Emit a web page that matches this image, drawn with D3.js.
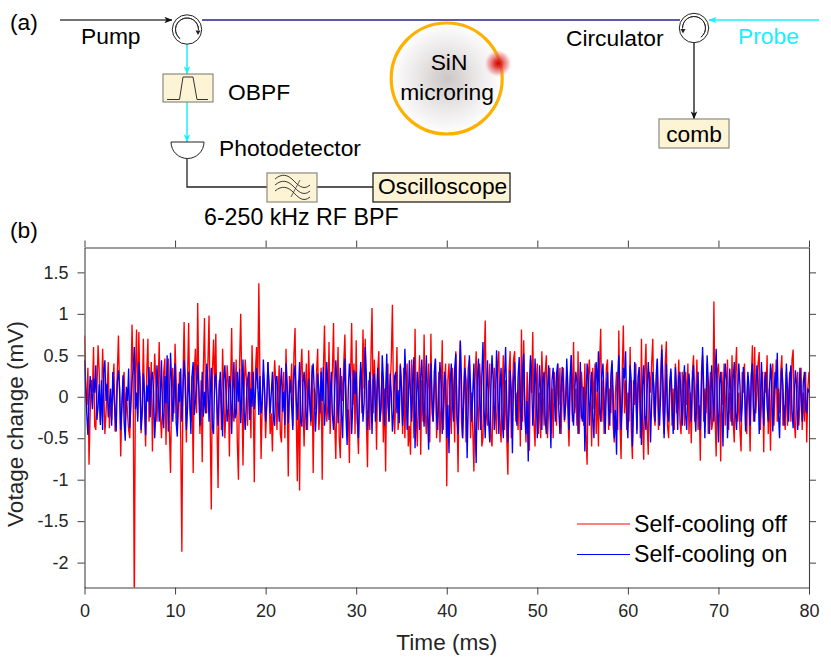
<!DOCTYPE html>
<html><head><meta charset="utf-8">
<script src="https://cdn.jsdelivr.net/npm/d3@7"></script>
<style>
html,body{margin:0;padding:0;background:#fff}
svg{display:block}
text{font-family:"Liberation Sans",Arial,sans-serif;fill:#000}
</style></head><body>
<script>
const sampleStepMs = 0.125;
const xTicks = [0,10,20,30,40,50,60,70,80];
const yTicks = [-2,-1.5,-1,-0.5,0,0.5,1,1.5];
const xDomain = [0,80];
const yDomain = [-2.3,1.8];
const seriesNames = ["Self-cooling off","Self-cooling on"];
const seriesColors = ["#ff0000","#0000ff"];
const selfCoolingOff = [
0.74,0.1,-0.1,0.35,-0.82,-0.2,0.2,0.05,0.6,-0.35,-0.4,0.1,0.62,0.3,-0.3,-0.1,0.58,0.15,-0.45,-0.2,
0.1,0.42,-0.38,-0.05,-0.28,0.12,0.4,-0.42,-0.1,0.3,0.74,0.05,-0.72,-0.1,0.16,0.3,-0.34,0.05,-0.2,-0.4,
-0.5,0.1,0.87,0.2,-2.6,0.3,0.81,-0.25,0.78,0.1,-0.44,-0.1,0.7,-0.15,-0.6,0.3,0.7,-0.3,0.1,0.42,
-0.66,0.05,0.52,0.2,-0.3,0.1,0.66,-0.2,-0.5,-0.15,0.3,0.46,-0.58,0.2,0.46,-0.4,-0.92,0.1,0.35,-0.2,
0.64,0.2,-0.4,-0.1,0.3,-0.5,-1.87,0.2,0.9,0.1,-0.55,0.2,0.89,-0.1,-0.3,0.25,-0.92,0.3,0.58,-0.2,
1.13,0.1,-0.45,0.2,-0.79,0.35,0.95,-0.1,-0.2,0.4,0.98,-0.3,-1.36,0.3,0.69,0.1,0.76,-0.3,-1.1,0.2,
0.1,-0.4,0.58,0.05,-0.5,-0.12,0.38,0.15,-0.72,0.1,0.83,-0.2,-0.3,0.05,0.45,-0.55,-1.0,0.4,1.0,0.1,
-0.83,0.1,0.45,0.2,-0.35,0.1,0.3,-0.5,0.62,0.05,-1.03,0.3,0.6,0.1,1.37,0.2,-0.75,-0.1,0.3,0.1,
-0.5,-0.1,0.42,0.1,-0.45,-0.2,-0.66,0.1,0.44,0.15,-0.4,0.05,0.38,-0.45,-0.55,0.1,0.3,-0.5,0.58,0.05,
-0.96,0.25,0.05,0.4,-0.35,0.5,0.83,-0.2,-1.02,0.2,-1.13,0.3,0.58,-0.1,-0.6,0.05,0.4,-0.4,0.56,0.1,
-0.35,0.38,-0.92,0.1,-0.15,0.3,0.58,-0.4,-0.2,0.35,-1.0,0.3,0.86,0.1,-0.3,-0.1,0.66,-0.45,0.05,0.3,
0.89,-0.3,-0.75,0.1,0.6,-0.5,-0.74,0.25,-0.05,0.4,0.75,0.1,-0.45,-0.15,-0.8,0.25,0.89,-0.1,0.4,-0.45,
0.68,-0.3,-0.69,0.1,0.35,-0.2,0.81,0.1,0.7,-0.3,-0.85,0.2,-0.4,0.45,1.07,-0.2,0.45,0.1,-0.64,0.3,
0.55,-0.3,-0.05,0.3,-0.55,0.1,-0.9,0.25,0.4,-0.3,0.1,0.45,1.11,-0.1,-0.45,0.05,0.6,-0.4,-0.2,0.4,
0.1,-0.45,0.35,-0.5,0.05,0.4,-0.6,-0.35,-0.7,0.45,0.1,-0.5,0.82,-0.2,-0.6,0.05,0.5,-0.7,0.2,-0.3,
0.75,-0.2,-0.45,0.1,0.4,-0.55,0.76,-0.2,-0.3,0.05,0.45,-0.5,-0.2,0.3,-0.55,-0.1,0.68,-0.4,0.1,0.4,
-1.08,0.2,0.4,-0.1,-0.45,0.35,0.05,-0.55,0.55,-0.1,-0.91,0.3,0.68,-0.3,-0.5,0.1,0.5,-0.55,0.05,0.35,
0.45,-0.5,0.05,-0.4,-0.9,0.2,0.55,-0.1,-0.4,0.4,0.15,-0.6,-0.5,0.4,0.92,-0.2,-0.35,0.1,0.4,-0.5,
-0.6,0.05,0.35,-0.2,-0.45,0.4,0.55,-0.3,-0.55,0.1,0.5,-0.4,0.2,-0.5,-0.94,0.3,0.55,-0.5,0.1,0.45,
0.55,-0.3,0.05,-0.4,0.35,-0.6,0.81,-0.3,0.68,-0.2,-0.55,0.3,-0.1,-0.65,0.45,0.05,0.78,-0.3,-0.6,0.15,
0.4,-0.45,0.05,-0.5,0.55,0.1,-0.35,0.3,0.5,-0.5,-0.15,0.35,-0.45,0.1,-0.5,0.3,0.05,-0.35,0.4,-0.1,
0.35,-0.45,0.05,0.35,-0.3,-0.1,0.3,-0.2,-0.6,0.1,0.5,-0.3,0.66,-0.2,0.1,-0.35,0.55,-0.45,-0.1,0.3,
0.05,-0.35,0.4,-0.45,-0.82,0.25,0.45,0.05,-0.6,0.35,-0.15,0.4,-0.45,0.1,-0.6,0.4,0.82,-0.3,0.2,-0.45,
-0.1,0.35,0.45,-0.4,0.1,-0.2,0.4,-0.35,-0.55,0.05,0.3,-0.4,0.8,-0.3,-0.75,0.3,0.86,-0.2,0.2,-0.4,
0.05,-0.3,0.6,-0.4,-0.75,0.2,-0.1,0.4,-0.4,0.1,0.3,-0.5,0.7,-0.3,-0.76,0.3,0.64,-0.3,-0.7,0.3,
0.05,0.4,0.7,-0.2,-0.35,0.1,0.45,-0.4,-0.1,0.3,0.63,-0.2,-0.45,0.4,0.67,-0.35,-0.5,0.05,0.3,-0.35,
0.1,-0.4,0.4,-0.2,0.05,0.45,-0.3,-0.45,0.3,0.05,-0.35,0.3,-0.1,0.4,-0.45,0.05,-0.56,0.3,0.5,-0.3,
0.05,0.45,-0.4,-0.1,-0.77,0.3,0.5,-0.3,0.1,-0.2,0.4,-0.45,0.05,0.3,-0.4,-0.3,1.15,-0.2,-0.72,0.3,
0.4,0.05,-0.78,0.3,-0.1,0.4,-0.35,0.1,0.45,-0.4,0.05,-0.3,0.5,-0.3,-0.55,0.3,0.6,-0.3,0.05,-0.4,
-0.66,0.3,0.05,0.4,-0.35,-0.45,0.25,-0.1,-0.66,0.2,0.62,-0.3,0.6,-0.2,0.05,0.4,0.54,-0.4,-0.1,0.3,
-0.67,0.3,0.05,0.5,-0.45,0.1,-0.65,0.3,0.4,-0.35,0.05,0.45,-0.3,0.1,-0.2,0.3,0.5,-0.35,-0.1,-0.4,
0.3,-0.35,0.05,0.3,-0.3,0.45,0.57,-0.3,-0.5,0.1,0.3,-0.35,-0.1,0.35,-0.4,0.05,-0.3,0.3,-0.55,0.1,0.3];
const selfCoolingOn = [
0.44,0.12,-0.2,-0.46,-0.05,0.25,0.08,-0.15,0.22,0.05,0.38,-0.28,-0.12,0.15,-0.34,0.2,-0.4,0.3,0.44,-0.05,
0.16,-0.25,-0.08,0.1,-0.35,0.3,0.02,-0.2,-0.42,0.18,0.32,0.1,-0.4,-0.12,0.26,-0.3,-0.53,0.12,-0.05,0.34,
-0.38,-0.1,0.2,0.32,0.6,-0.15,0.05,-0.3,0.42,0.22,-0.4,-0.18,0.28,0.05,-0.46,0.14,-0.06,0.36,-0.25,0.2,
0.3,0.06,-0.5,-0.2,0.38,0.12,-0.3,0.02,0.44,-0.22,-0.38,0.25,-0.08,0.5,-0.42,-0.1,0.53,0.18,-0.3,0.04,
0.4,-0.32,-0.48,0.16,-0.06,0.34,-0.3,0.08,0.44,0.2,-0.4,-0.14,0.3,-0.04,-0.45,0.26,0.42,-0.22,-0.05,0.15,
0.38,0.1,-0.35,-0.12,0.3,-0.24,0.06,-0.2,0.4,0.18,-0.3,0.02,0.35,-0.38,-0.45,0.22,0.28,-0.08,-0.35,0.1,
0.3,-0.1,-0.48,0.2,0.38,0.05,-0.3,-0.14,0.25,0.12,-0.45,0.08,0.42,-0.26,-0.2,0.3,-0.06,0.34,-0.32,0.02,
0.45,-0.18,-0.4,-0.04,0.2,0.3,-0.28,0.1,-0.12,0.3,-0.15,0.04,0.35,0.18,-0.22,0.25,-0.2,-0.06,0.45,0.1,
-0.3,-0.08,0.42,0.16,-0.2,0.04,0.3,-0.26,-0.35,0.22,0.25,-0.05,-0.3,0.12,0.35,-0.18,0.06,-0.34,0.4,0.14,
-0.32,0.05,0.2,-0.12,-0.4,0.26,0.38,-0.02,-0.28,0.08,0.42,-0.3,-0.36,0.18,0.3,0.04,-0.4,-0.16,0.22,-0.1,
-0.3,0.28,0.4,0.06,-0.42,-0.12,0.28,0.1,-0.2,0.3,-0.05,0.36,-0.35,-0.08,0.42,0.14,-0.28,0.02,0.3,-0.22,
-0.4,0.05,0.44,0.18,-0.32,-0.06,0.35,-0.2,-0.5,0.16,0.46,-0.24,-0.58,0.08,0.4,0.2,-0.45,-0.1,0.32,0.03,
0.3,-0.28,-0.5,0.04,0.42,0.12,-0.3,-0.08,0.6,0.24,-0.4,-0.16,0.3,0.06,-0.45,0.2,0.28,-0.3,-0.02,0.35,
0.1,-0.3,-0.14,0.5,0.22,-0.35,0.06,0.52,-0.1,-0.3,0.28,0.04,-0.42,-0.18,0.25,0.3,-0.2,0.08,-0.32,0.38,
0.12,-0.35,-0.06,0.58,0.18,-0.4,-0.1,0.44,0.02,-0.3,0.2,0.48,-0.62,-0.14,0.3,0.06,-0.4,0.24,0.45,-0.08,
-0.36,0.1,0.5,-0.2,-0.64,0.16,0.4,-0.04,-0.3,0.3,0.46,-0.22,-0.4,0.08,0.42,0.14,-0.45,-0.12,0.3,0.2,
-0.5,-0.1,-0.68,0.16,0.4,-0.08,-0.3,0.34,0.52,-0.24,-0.45,0.05,0.67,0.18,-0.5,-0.06,0.35,0.2,-0.74,-0.1,
0.5,0.12,-0.3,0.05,0.4,-0.34,-0.8,0.2,0.46,-0.02,-0.4,0.26,0.66,-0.16,-0.5,0.08,0.44,-0.3,-0.55,0.1,
0.5,0.2,-0.4,-0.04,0.56,0.14,-0.45,0.1,0.35,-0.28,-0.5,0.22,0.6,-0.06,-0.55,-0.2,0.32,0.05,-0.68,0.18,
0.42,-0.12,-0.35,0.24,0.48,-0.02,-0.4,0.3,0.52,-0.18,-0.45,-0.05,-0.78,0.14,0.5,0.2,-0.35,-0.08,0.46,0.1,
-0.5,-0.14,0.38,0.06,-0.4,0.22,0.3,-0.28,-0.45,0.08,0.38,-0.1,-0.62,0.2,0.35,0.02,-0.3,0.28,0.4,-0.16,
-0.45,0.04,0.36,0.16,-0.28,-0.1,0.46,0.12,-0.4,0.26,0.5,-0.2,-0.35,0.05,0.3,0.18,-0.45,-0.06,0.42,-0.24,
-0.3,0.12,-0.66,-0.08,0.4,0.2,-0.35,0.02,0.3,-0.26,-0.5,0.16,0.42,0.06,0.55,-0.18,-0.3,0.28,0.4,-0.04,
-0.45,0.1,0.3,-0.14,-0.35,0.26,0.44,0.04,-0.5,-0.16,-0.7,0.2,0.5,0.1,-0.4,-0.08,0.35,0.22,0.55,-0.2,
-0.5,0.04,0.38,0.18,-0.6,-0.12,0.42,0.06,-0.45,0.24,0.36,-0.1,-0.58,0.14,0.38,-0.24,-0.4,0.08,0.42,0.16,
-0.55,-0.08,0.3,0.12,-0.3,0.26,0.46,-0.16,-0.35,0.04,0.57,0.22,-0.5,-0.06,0.4,-0.2,-0.3,0.18,0.34,0.02,
-0.45,-0.14,0.36,0.08,-0.4,0.24,0.3,-0.06,-0.35,0.16,0.38,-0.22,-0.4,0.12,0.28,0.02,-0.3,0.2,0.38,-0.12,
-0.42,0.06,0.3,-0.24,-0.4,0.14,0.6,0.1,-0.5,-0.06,0.5,0.2,-0.45,-0.16,0.38,0.04,-0.3,0.24,0.58,-0.12,
-0.55,0.16,0.3,-0.04,-0.6,0.08,0.4,0.2,-0.5,-0.14,0.34,0.04,-0.35,0.22,0.42,-0.18,-0.4,0.02,0.4,0.14,
-0.3,-0.1,0.36,0.18,-0.42,-0.04,0.3,0.12,-0.35,0.26,0.4,-0.14,-0.3,0.06,0.38,0.2,-0.45,-0.08,0.42,0.02,
-0.35,0.2,0.3,-0.12,-0.3,0.06,0.4,0.16,-0.42,-0.06,0.3,0.1,0.53,-0.2,-0.5,0.04,0.35,0.14,-0.35,-0.1,
0.4,0.08,-0.3,0.2,0.38,-0.16,-0.38,0.02,0.32,0.14,-0.4,-0.12,0.35,0.06,-0.3,0.18,0.3,-0.14,-0.2,0.1,0.05];

const W=831,H=660;
const plot={left:84.5,right:809,top:247.5,bottom:587.5};
const svg=d3.select("body").append("svg").attr("width",W).attr("height",H).attr("viewBox",`0 0 ${W} ${H}`);
const defs=svg.append("defs");

/* ---------- panel (a) schematic ---------- */
function arrowMarker(id,color){
  defs.append("marker").attr("id",id).attr("viewBox","0 0 10 8").attr("refX",9.5).attr("refY",4)
    .attr("markerUnits","userSpaceOnUse").attr("markerWidth",8).attr("markerHeight",6.5).attr("orient","auto")
    .append("path").attr("d","M0,0L10,4L0,8L2.5,4Z").attr("fill",color);
}
arrowMarker("arrK","#111"); arrowMarker("arrC","#19eeff");
const rg=defs.append("radialGradient").attr("id","ringFill");
rg.append("stop").attr("offset","0%").attr("stop-color","#cdc6c6");
rg.append("stop").attr("offset","50%").attr("stop-color","#e8e5e5");
rg.append("stop").attr("offset","100%").attr("stop-color","#ffffff");
const gl=defs.append("radialGradient").attr("id","glow");
gl.append("stop").attr("offset","0%").attr("stop-color","#d40000");
gl.append("stop").attr("offset","30%").attr("stop-color","#dc2020").attr("stop-opacity",.85);
gl.append("stop").attr("offset","70%").attr("stop-color","#e87070").attr("stop-opacity",.55);
gl.append("stop").attr("offset","100%").attr("stop-color","#f0a0a0").attr("stop-opacity",0);

const sch=svg.append("g");
function seg(x1,y1,x2,y2,c,w,m){
  const l=sch.append("line").attr("x1",x1).attr("y1",y1).attr("x2",x2).attr("y2",y2).attr("stroke",c).attr("stroke-width",w);
  if(m) l.attr("marker-end",`url(#${m})`);
  return l;
}
function label(s,x,y,opt={}){
  return sch.append("text").attr("x",x).attr("y",y).attr("font-size",opt.size||22.8)
    .attr("text-anchor",opt.anchor||"start").style("fill",opt.fill||"#000").text(s);
}
function box(x,y,w,h,st){
  sch.append("rect").attr("x",x).attr("y",y).attr("width",w).attr("height",h)
    .attr("fill","#fdf4d6").attr("stroke",st||"#8a8a80").attr("stroke-width",1.2);
}
seg(60,20,172,20,"#444",1.5,"arrK");
seg(202,20,680,20,"#5a5aa6",2);
seg(819,20,709,20,"#19eeff",1.5,"arrC");
seg(187,44,187,74,"#19eeff",1.5,"arrC");
seg(187,102,187,142,"#19eeff",1.5,"arrC");
seg(694,43,694,119,"#111",1.3,"arrK");
sch.append("path").attr("d","M187,158V187H267M317,187H373").attr("fill","none").attr("stroke","#222").attr("stroke-width",1.3);

function circulator(cx,cy,flip){
  sch.append("circle").attr("cx",cx).attr("cy",cy).attr("r",14.7).attr("fill","#fff").attr("stroke","#222").attr("stroke-width",1);
  const a=d3.arc().innerRadius(11.5).outerRadius(11.5).startAngle(-2.5).endAngle(1.6)();
  const g=sch.append("g").attr("transform",`translate(${cx},${cy}) scale(${flip?-1:1},1)`);
  g.append("path").attr("d",a).attr("fill","none").attr("stroke","#222").attr("stroke-width",.9);
  g.append("path").attr("d","M8.5,1L13.5,1L11,5.5Z").attr("fill","#222");
}
circulator(187,29.5,false); circulator(694,28,true);

box(163,74,50,28);
sch.append("path").attr("d","M167,99.5H179.5L183,77H193L197,99.5H208").attr("fill","none").attr("stroke","#333").attr("stroke-width",1);
sch.append("path").attr("d","M171,142H204A16.5,16.5 0 0 1 171,142Z").attr("fill","#fff").attr("stroke","#222").attr("stroke-width",1);
box(267,173,50,29);
[0,6,12].forEach(d=>sch.append("path")
  .attr("d",`M275,${179+d}C282,${173+d} 288,${175+d} 293,${180+d}S303,${191+d} 310,${185+d}`)
  .attr("fill","none").attr("stroke","#222").attr("stroke-width",.9));
sch.append("path").attr("d","M300,180L291,197").attr("stroke","#222").attr("stroke-width",.7);
box(373,173,137,29,"#111");
box(659,119,70,29);

sch.append("circle").attr("cx",446.7).attr("cy",78.5).attr("r",55.5).attr("fill","url(#ringFill)").attr("stroke","#ffb000").attr("stroke-width",3.2);
sch.append("circle").attr("cx",498).attr("cy",63.5).attr("r",13.5).attr("fill","url(#glow)");

label("(a)",10,30); label("(b)",10,238);
label("Pump",81,44); label("OBPF",228,100); label("Photodetector",219,156);
label("6-250 kHz RF BPF",204,225,{size:23.2}); label("Oscilloscope",378,194);
label("Circulator",566,46); label("Probe",738,44,{fill:"#19eeff"});
label("SiN",449,70,{anchor:"middle"}); label("microring",447,100,{anchor:"middle"});
label("comb",694,142,{anchor:"middle"});

/* ---------- panel (b) trace ---------- */
const x=d3.scaleLinear().domain(xDomain).range([plot.left,plot.right]);
const y=d3.scaleLinear().domain(yDomain).range([plot.bottom,plot.top]);
defs.append("clipPath").attr("id","plotClip").append("rect")
  .attr("x",plot.left).attr("y",plot.top).attr("width",plot.right-plot.left).attr("height",plot.bottom-plot.top);
const line=d3.line().x((d,i)=>x(i*sampleStepMs)).y(d=>y(d));
const traces=[selfCoolingOff,selfCoolingOn];
svg.append("g").attr("clip-path","url(#plotClip)").selectAll("path").data(traces).join("path")
  .attr("d",line).attr("fill","none").attr("stroke",(d,i)=>seriesColors[i]).attr("stroke-width",1.35);

const fmt=d=>String(d);
const axCol="#404040";
function styleAxis(g){
  g.selectAll(".domain").attr("stroke",axCol).attr("stroke-width",1.1);
  g.selectAll(".tick line").attr("stroke",axCol).attr("stroke-width",1);
  g.selectAll("text").attr("font-family",'"Liberation Sans",Arial,sans-serif').attr("font-size",18).style("fill","#262626");
}
svg.append("g").attr("transform",`translate(0,${plot.bottom})`)
  .call(d3.axisBottom(x).tickValues(xTicks).tickFormat(fmt).tickSize(7).tickSizeOuter(0).tickPadding(10)).call(styleAxis);
svg.append("g").attr("transform",`translate(0,${plot.top})`)
  .call(d3.axisTop(x).tickValues(xTicks).tickFormat("").tickSize(7).tickSizeOuter(0)).call(styleAxis);
svg.append("g").attr("transform",`translate(${plot.left},0)`)
  .call(d3.axisLeft(y).tickValues(yTicks).tickFormat(fmt).tickSize(7).tickSizeOuter(0).tickPadding(9)).call(styleAxis);
svg.append("g").attr("transform",`translate(${plot.right},0)`)
  .call(d3.axisRight(y).tickValues(yTicks).tickFormat("").tickSize(7).tickSizeOuter(0)).call(styleAxis);

svg.append("text").attr("x",(plot.left+plot.right)/2).attr("y",650).attr("text-anchor","middle")
  .attr("font-size",22.6).style("fill","#262626").text("Time (ms)");
svg.append("text").attr("transform","translate(23,424) rotate(-90)").attr("text-anchor","middle")
  .attr("font-size",22.6).style("fill","#262626").text("Votage change (mV)");

const leg=svg.append("g").selectAll("g").data(seriesNames).join("g")
  .attr("transform",(d,i)=>`translate(0,${524+i*30.5})`);
leg.append("line").attr("x1",577).attr("x2",630).attr("stroke",(d,i)=>seriesColors[i]).attr("stroke-width",1);
leg.append("text").attr("x",634).attr("y",7.5).attr("font-size",23.2).text(d=>d);
</script>
</body></html>
